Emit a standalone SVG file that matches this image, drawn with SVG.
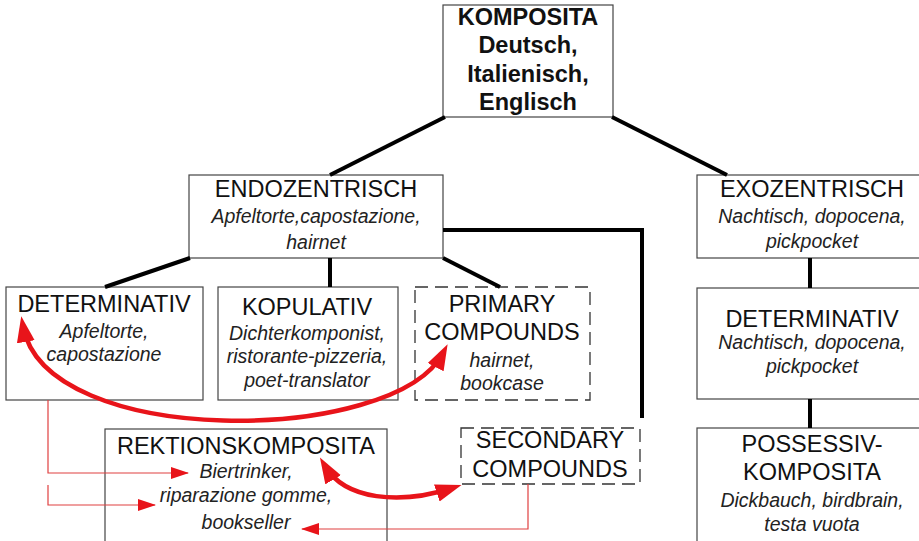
<svg xmlns="http://www.w3.org/2000/svg" width="919" height="541" viewBox="0 0 919 541">
<defs>
<style>
.box{fill:#fff;stroke:#444;stroke-width:1.2}
.dash{fill:#fff;stroke:#333;stroke-width:1.3;stroke-dasharray:13 7}
.t{font-family:"Liberation Sans",Arial,sans-serif;font-size:23.5px;fill:#111;text-anchor:middle}
.b{font-weight:bold}
.i{font-family:"Liberation Sans",Arial,sans-serif;font-size:19.5px;font-style:italic;fill:#222;text-anchor:middle}
.con{stroke:#000;stroke-width:4;fill:none}
.red{stroke:#e8141a;stroke-width:4.5;fill:none}
.thin{stroke:#e04040;stroke-width:1.2;fill:none}
</style>
<marker id="bigHead" markerUnits="userSpaceOnUse" markerWidth="28" markerHeight="20" refX="16" refY="9" orient="auto-start-reverse">
<path d="M0,0 L26,9 L0,18 z" fill="#e8141a"/>
</marker>
<marker id="smallHead" markerUnits="userSpaceOnUse" markerWidth="20" markerHeight="14" refX="17" refY="6" orient="auto">
<path d="M0,0 L18,6 L0,12 z" fill="#e8141a"/>
</marker>
</defs>

<g id="komposita">
<rect class="box" x="443" y="5" width="170" height="112"/>
<text class="t b" x="528" y="25">KOMPOSITA</text>
<text class="t b" x="528" y="53">Deutsch,</text>
<text class="t b" x="528" y="82">Italienisch,</text>
<text class="t b" x="528" y="110">Englisch</text>
</g>

<g id="endozentrisch">
<rect class="box" x="189" y="175" width="254" height="83"/>
<text class="t" x="316" y="197">ENDOZENTRISCH</text>
<text class="i" x="316" y="223">Apfeltorte,capostazione,</text>
<text class="i" x="316" y="249">hairnet</text>
</g>

<g id="exozentrisch">
<rect class="box" x="697" y="175" width="232" height="83"/>
<text class="t" x="812" y="197">EXOZENTRISCH</text>
<text class="i" x="812" y="223">Nachtisch, dopocena,</text>
<text class="i" x="812" y="248">pickpocket</text>
</g>

<g id="determinativ-left">
<rect class="box" x="6" y="287" width="197" height="113"/>
<text class="t" x="104" y="312">DETERMINATIV</text>
<text class="i" x="104" y="338">Apfeltorte,</text>
<text class="i" x="104" y="361">capostazione</text>
</g>

<g id="kopulativ">
<rect class="box" x="218" y="287" width="180" height="113"/>
<text class="t" x="307" y="315">KOPULATIV</text>
<text class="i" x="307" y="340">Dichterkomponist,</text>
<text class="i" x="307" y="363">ristorante-pizzeria,</text>
<text class="i" x="307" y="387">poet-translator</text>
</g>

<g id="primary">
<rect class="dash" x="415" y="287" width="175" height="113"/>
<text class="t" x="502" y="312">PRIMARY</text>
<text class="t" x="502" y="340">COMPOUNDS</text>
<text class="i" x="502" y="367">hairnet,</text>
<text class="i" x="502" y="390">bookcase</text>
</g>

<g id="secondary">
<rect class="dash" x="461" y="428" width="179" height="56"/>
<text class="t" x="550" y="448">SECONDARY</text>
<text class="t" x="550" y="477">COMPOUNDS</text>
</g>

<g id="rektionskomposita">
<rect class="box" x="105" y="429" width="282" height="130"/>
<text class="t" x="246" y="454">REKTIONSKOMPOSITA</text>
<text class="i" x="246" y="478">Biertrinker,</text>
<text class="i" x="246" y="502">riparazione gomme,</text>
<text class="i" x="246" y="529">bookseller</text>
</g>

<g id="determinativ-right">
<rect class="box" x="697" y="288" width="232" height="111"/>
<text class="t" x="812" y="327">DETERMINATIV</text>
<text class="i" x="812" y="349">Nachtisch, dopocena,</text>
<text class="i" x="812" y="373">pickpocket</text>
</g>

<g id="possessiv">
<rect class="box" x="697" y="428" width="232" height="130"/>
<text class="t" x="812" y="452">POSSESSIV-</text>
<text class="t" x="812" y="480">KOMPOSITA</text>
<text class="i" x="812" y="507">Dickbauch, birdbrain,</text>
<text class="i" x="812" y="531">testa vuota</text>
</g>

<g id="connectors">
<line class="con" x1="445" y1="117" x2="330" y2="175"/>
<line class="con" x1="612" y1="117" x2="727" y2="175"/>
<polyline class="con" points="443,230 642,230 642,418"/>
<line class="con" x1="190" y1="258" x2="105" y2="287"/>
<line class="con" x1="330" y1="258" x2="330" y2="287"/>
<line class="con" x1="443" y1="258" x2="500" y2="287"/>
<line class="con" x1="810" y1="258" x2="810" y2="288"/>
<line class="con" x1="810" y1="399" x2="810" y2="428"/>
<path class="red" d="M23,326 C45,450 395,445 443,353" marker-start="url(#bigHead)" marker-end="url(#bigHead)"/>
<path class="red" d="M325,466 C345,500 400,505 452,488" marker-start="url(#bigHead)" marker-end="url(#bigHead)"/>
<polyline class="thin" points="48,400 48,473 188,473" marker-end="url(#smallHead)"/>
<polyline class="thin" points="48,485 48,505 155,505" marker-end="url(#smallHead)"/>
<polyline class="thin" points="528,484 528,529 302,529" marker-end="url(#smallHead)"/>
</g>
</svg>
